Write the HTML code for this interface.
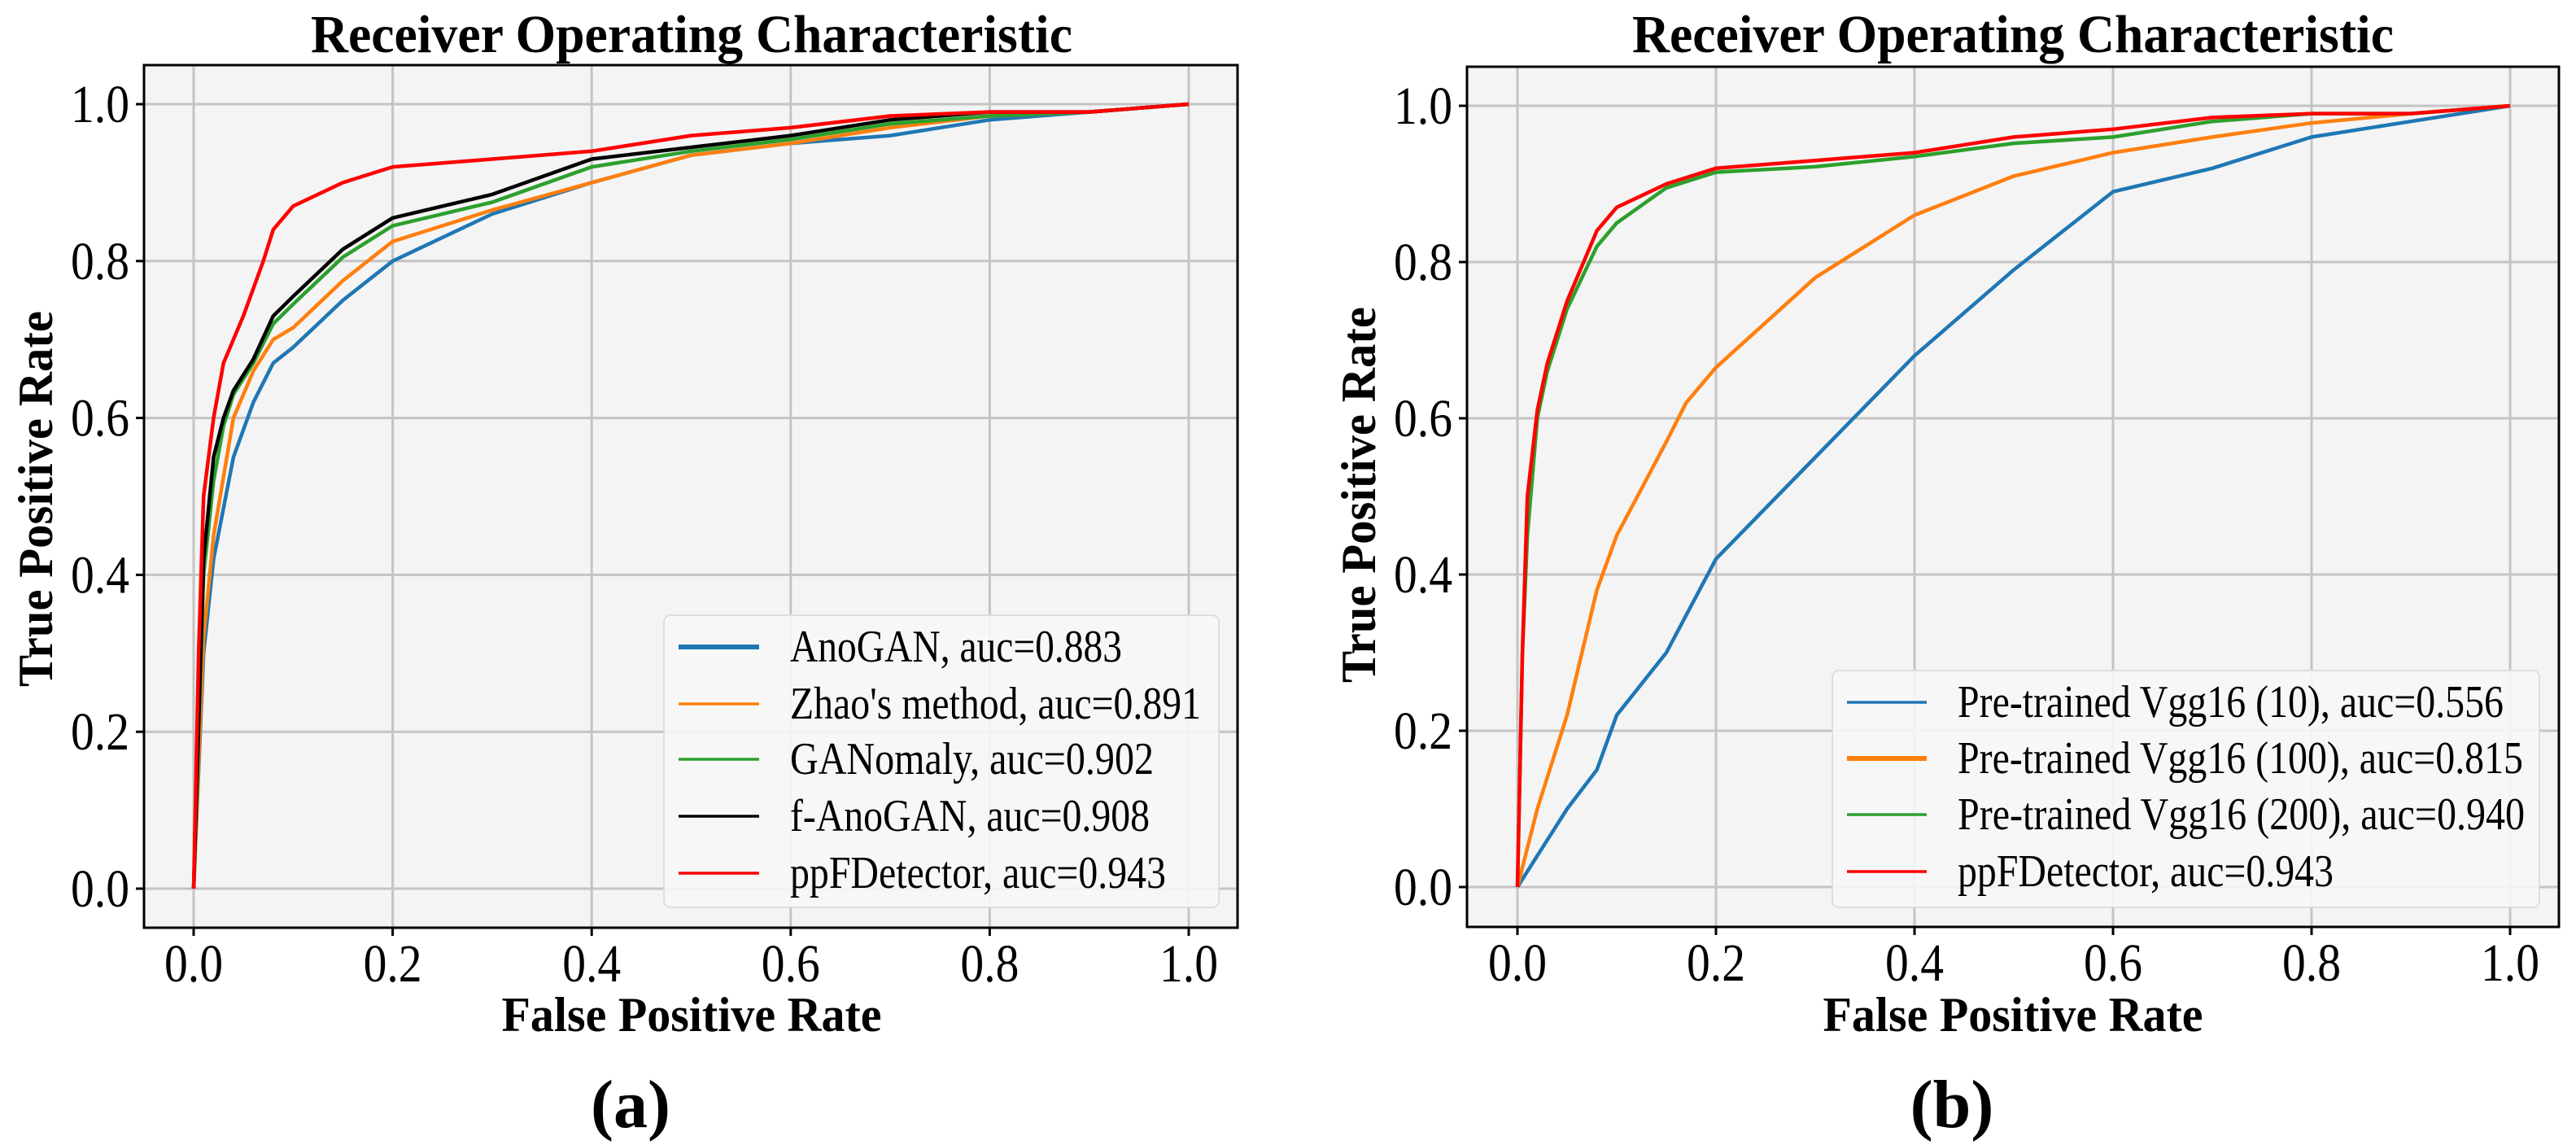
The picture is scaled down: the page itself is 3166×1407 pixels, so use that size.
<!DOCTYPE html>
<html><head><meta charset="utf-8"><style>
html,body{margin:0;padding:0;background:#fff;}
svg{display:block;}
text{font-family:"Liberation Serif",serif;fill:#000;}
</style></head><body>
<svg id="fig" width="3166" height="1407" viewBox="0 0 3166 1407" xmlns="http://www.w3.org/2000/svg"></svg>
<script>
const ticks = [0, 0.2, 0.4, 0.6, 0.8, 1.0];
const tickLabels = ["0.0","0.2","0.4","0.6","0.8","1.0"];

// Panel (a)
const aNames = ["AnoGAN, auc=0.883","Zhao's method, auc=0.891","GANomaly, auc=0.902","f-AnoGAN, auc=0.908","ppFDetector, auc=0.943"];
const aColors = ["#1f77b4","#ff7f0e","#2ca02c","#000000","#ff0000"];
const aX0 = [0,0.01,0.02,0.04,0.06,0.08,0.1,0.15,0.2,0.3,0.4,0.5,0.6,0.7,0.8,0.9,1];
const aY0 = [0,0.30,0.42,0.55,0.62,0.67,0.69,0.75,0.80,0.86,0.90,0.935,0.95,0.96,0.98,0.99,1];
const aX1 = [0,0.01,0.02,0.04,0.06,0.08,0.1,0.15,0.2,0.3,0.4,0.5,0.6,0.7,0.8,0.9,1];
const aY1 = [0,0.32,0.45,0.60,0.66,0.70,0.715,0.775,0.825,0.865,0.90,0.935,0.95,0.97,0.985,0.99,1];
const aX2 = [0,0.01,0.02,0.03,0.04,0.06,0.08,0.1,0.15,0.2,0.3,0.4,0.5,0.6,0.7,0.8,0.9,1];
const aY2 = [0,0.40,0.52,0.59,0.63,0.67,0.72,0.745,0.805,0.845,0.875,0.92,0.94,0.955,0.975,0.985,0.99,1];
const aX3 = [0,0.01,0.02,0.03,0.04,0.06,0.08,0.1,0.15,0.2,0.3,0.4,0.5,0.6,0.7,0.8,0.9,1];
const aY3 = [0,0.42,0.55,0.60,0.635,0.675,0.73,0.755,0.815,0.855,0.885,0.93,0.945,0.96,0.98,0.99,0.99,1];
const aX4 = [0,0.005,0.01,0.02,0.03,0.05,0.07,0.08,0.1,0.15,0.2,0.3,0.4,0.5,0.6,0.7,0.8,0.9,1];
const aY4 = [0,0.30,0.50,0.60,0.67,0.73,0.80,0.84,0.87,0.90,0.92,0.93,0.94,0.96,0.97,0.985,0.99,0.99,1];

// Panel (b)
const bNames = ["Pre-trained Vgg16 (10), auc=0.556","Pre-trained Vgg16 (100), auc=0.815","Pre-trained Vgg16 (200), auc=0.940","ppFDetector, auc=0.943"];
const bColors = ["#1f77b4","#ff7f0e","#2ca02c","#ff0000"];
const bX0 = [0,0.05,0.08,0.1,0.15,0.2,0.3,0.4,0.5,0.6,0.7,0.8,0.9,1];
const bY0 = [0,0.10,0.15,0.22,0.30,0.42,0.55,0.68,0.79,0.89,0.92,0.96,0.98,1];
const bX1 = [0,0.02,0.05,0.08,0.1,0.15,0.17,0.2,0.3,0.4,0.5,0.6,0.7,0.8,0.9,1];
const bY1 = [0,0.10,0.22,0.38,0.45,0.57,0.62,0.665,0.78,0.86,0.91,0.94,0.96,0.978,0.99,1];
const bX2 = [0,0.005,0.01,0.02,0.03,0.05,0.08,0.1,0.15,0.2,0.3,0.4,0.5,0.6,0.7,0.8,0.9,1];
const bY2 = [0,0.30,0.45,0.60,0.66,0.74,0.82,0.85,0.895,0.915,0.922,0.935,0.952,0.96,0.98,0.99,0.99,1];
const bX3 = [0,0.005,0.01,0.02,0.03,0.05,0.08,0.1,0.15,0.2,0.3,0.4,0.5,0.6,0.7,0.8,0.9,1];
const bY3 = [0,0.30,0.50,0.61,0.67,0.75,0.84,0.87,0.90,0.92,0.93,0.94,0.96,0.97,0.985,0.99,0.99,1];

const NS = "http://www.w3.org/2000/svg";
const svg = document.getElementById("fig");
function mk(tag, attrs, parent){
  const e = document.createElementNS(NS, tag);
  for (const k in attrs) e.setAttribute(k, attrs[k]);
  (parent||svg).appendChild(e);
  return e;
}
function txt(s, attrs, parent){ const t = mk("text", attrs, parent); t.textContent = s; return t; }

function panel(cfg){
  const g = mk("g", {});
  
  
  const sx = v => cfg.x0 + (cfg.x1 - cfg.x0) * v;
  const sy = v => cfg.y0 + (cfg.y1 - cfg.y0) * v;
  const bg = mk("rect", {x:cfg.fl, y:cfg.ft, width:cfg.fr-cfg.fl, height:cfg.fb-cfg.ft, fill:"#f4f4f4"}, g);
  
  
  ticks.forEach((t, i) => {
    const gx = mk("line", {x1:sx(t), x2:sx(t), y1:cfg.ft, y2:cfg.fb, stroke:"#c4c4c4", "stroke-width":3}, g);
    
    
    const gy = mk("line", {x1:cfg.fl, x2:cfg.fr, y1:sy(t), y2:sy(t), stroke:"#c4c4c4", "stroke-width":3}, g);
    
    
    mk("line", {x1:sx(t), x2:sx(t), y1:cfg.fb, y2:cfg.fb+10, stroke:"#000", "stroke-width":3}, g);
    mk("line", {x1:cfg.fl-10, x2:cfg.fl, y1:sy(t), y2:sy(t), stroke:"#000", "stroke-width":3}, g);
    const xl = txt(tickLabels[i], {x:sx(t), y:cfg.fb+66, "text-anchor":"middle", "font-size":66, textLength:72, lengthAdjust:"spacingAndGlyphs"}, g);
    
    
    const yl = txt(tickLabels[i], {x:cfg.fl-18, y:sy(t)+22, "text-anchor":"end", "font-size":66, textLength:72, lengthAdjust:"spacingAndGlyphs"}, g);
    
    
  });
  cfg.series.forEach((s, i) => {
    const pts = s.xs.map((x, j) => sx(x).toFixed(1) + "," + sy(s.ys[j]).toFixed(1)).join(" ");
    const pl = mk("polyline", {points:pts, fill:"none", stroke:cfg.colors[i], "stroke-width":4.5, "stroke-linejoin":"round"}, g);
    
    
  });
  const fr = mk("rect", {x:cfg.fl, y:cfg.ft, width:cfg.fr-cfg.fl, height:cfg.fb-cfg.ft, fill:"none", stroke:"#000", "stroke-width":3}, g);
  
  
  const L = cfg.legend;
  const lg = mk("g", {}, g);
  
  
  mk("rect", {x:L.x, y:L.y, width:L.w, height:L.h, rx:8, fill:"#f7f7f7", stroke:"#dddddd", "stroke-width":2, "fill-opacity":0.9}, lg);
  cfg.names.forEach((n, i) => {
    const ey = L.rows[i];
    const le = mk("g", {}, lg);
    
    
    mk("line", {x1:L.lx1, x2:L.lx2, y1:ey, y2:ey, stroke:cfg.colors[i], "stroke-width":(cfg.thick===i?6:3.5)}, le);
    txt(n, {x:L.tx, y:ey+18, "font-size":56, textLength:L.widths[i], lengthAdjust:"spacingAndGlyphs"}, le);
  });
  const ti = txt("Receiver Operating Characteristic", {x:cfg.cx, y:64, "text-anchor":"middle", "font-size":66, "font-weight":"bold", textLength:936, lengthAdjust:"spacingAndGlyphs"}, g);
  
  
  const xt = txt("False Positive Rate", {x:cfg.cx, y:1267, "text-anchor":"middle", "font-size":60, "font-weight":"bold", textLength:467, lengthAdjust:"spacingAndGlyphs"}, g);
  
  
  const yt = txt("True Positive Rate", {x:0, y:0, "text-anchor":"middle", "font-size":60, "font-weight":"bold", textLength:462, lengthAdjust:"spacingAndGlyphs", transform:"translate("+(cfg.ylx)+","+cfg.yly+") rotate(-90)"}, g);
  
  
  const pl = txt(cfg.label, {x:cfg.plx, y:1385, "text-anchor":"middle", "font-size":84, "font-weight":"bold"}, g);
  
  
}

panel({
  id:"panel-a", x0:238, x1:1461, y0:1092, y1:128, fl:177, fr:1521, ft:80, fb:1140,
  cx:850, ylx:64, yly:613, plx:775, label:"(a)", thick:0,
  colors:aColors, names:aNames,
  series:[{xs:aX0,ys:aY0},{xs:aX1,ys:aY1},{xs:aX2,ys:aY2},{xs:aX3,ys:aY3},{xs:aX4,ys:aY4}],
  legend:{x:816, y:756, w:682, h:359, rows:[795,865,933,1003,1073], lx1:834, lx2:933, tx:971, widths:[408,505,447,442,462]}
});
panel({
  id:"panel-b", x0:1865, x1:3085, y0:1090, y1:130, fl:1803, fr:3145, ft:82, fb:1139,
  cx:2474, ylx:1690, yly:608, plx:2399, label:"(b)", thick:1,
  colors:bColors, names:bNames,
  series:[{xs:bX0,ys:bY0},{xs:bX1,ys:bY1},{xs:bX2,ys:bY2},{xs:bX3,ys:bY3}],
  legend:{x:2252, y:824, w:869, h:291, rows:[863,932,1001,1071], lx1:2270, lx2:2368, tx:2406, widths:[671,695,697,462]}
});
</script>
</body></html>
